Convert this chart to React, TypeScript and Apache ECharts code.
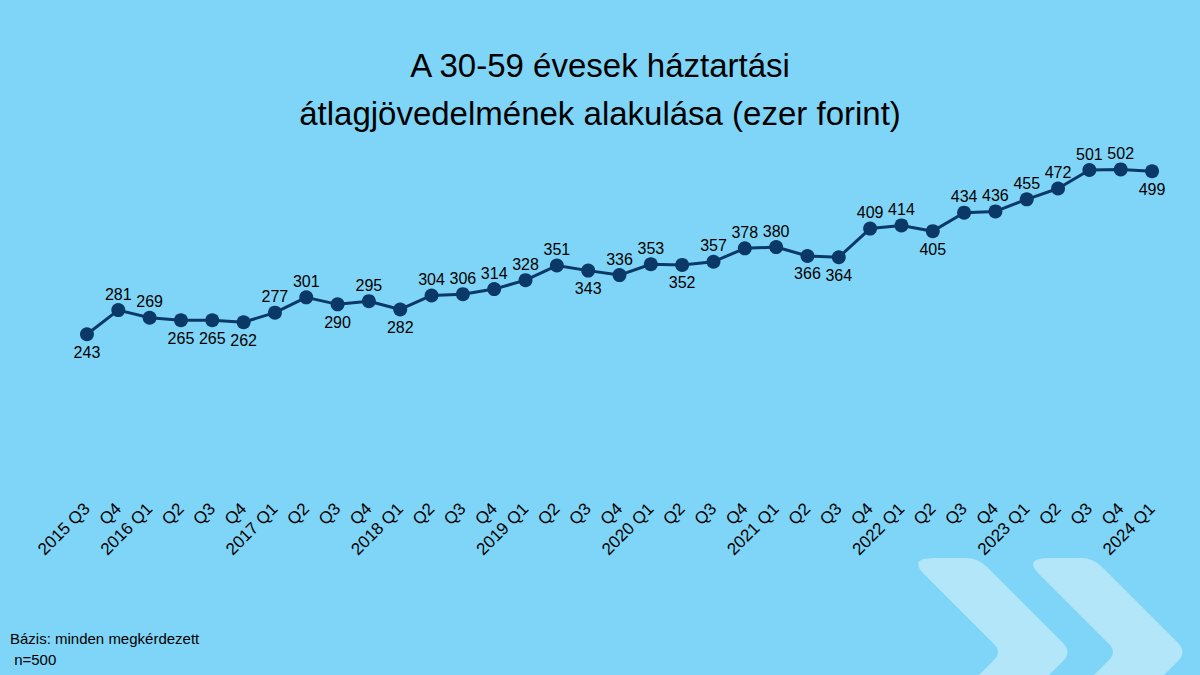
import React, { useEffect, useRef } from "react";
import * as echarts from "echarts";

const categories = [
  "2015 Q3", "Q4",
  "2016 Q1", "Q2", "Q3", "Q4",
  "2017 Q1", "Q2", "Q3", "Q4",
  "2018 Q1", "Q2", "Q3", "Q4",
  "2019 Q1", "Q2", "Q3", "Q4",
  "2020 Q1", "Q2", "Q3", "Q4",
  "2021 Q1", "Q2", "Q3", "Q4",
  "2022 Q1", "Q2", "Q3", "Q4",
  "2023 Q1", "Q2", "Q3", "Q4",
  "2024 Q1",
];

const incomeValues = [
  243, 281,
  269, 265, 265, 262,
  277, 301, 290, 295,
  282, 304, 306, 314,
  328, 351, 343, 336,
  353, 352, 357, 378,
  380, 366, 364, 409,
  414, 405, 434, 436,
  455, 472, 501, 502,
  499,
];

// indices of points whose value label sits below the marker
const labelsBelow = [0, 3, 4, 5, 8, 10, 16, 19, 23, 24, 27, 34];

const titleLines = ["A 30-59 évesek háztartási", "átlagjövedelmének alakulása (ezer forint)"];
const footLines = ["Bázis: minden megkérdezett", " n=500"];

const FONT = "'Liberation Sans', Arial, sans-serif";
const BG = "#7fd5f7";
const NAVY = "#0b3967";
const CHEVRON = "#b3e6f9";

const chevronPath =
  "M 935 558 L 966 558 Q 978 558 987 567 L 1063 643 Q 1072 652 1063 661 L 1049 675 L 979 675 L 994 660 Q 1002 652 994 644 L 924 574 Q 908 558 935 558 Z";

let registered = false;

export default function App() {
  const ref = useRef<HTMLDivElement>(null);

  useEffect(() => {
    document.body.style.margin = "0";
    if (!registered) {
      echarts.graphic.registerShape("chevron", echarts.graphic.extendPath(chevronPath, {}) as any);
      registered = true;
    }
    const chart = echarts.init(ref.current!, undefined, { renderer: "svg" });

    const data = incomeValues.map((v, i) => {
      const below = labelsBelow.includes(i);
      return {
        value: v,
        label: { position: below ? "bottom" : "top", distance: below ? 3 : 1 },
      };
    });

    chart.setOption({
      animation: false,
      backgroundColor: BG,
      title: {
        text: titleLines.join("\n"),
        left: "center",
        top: 36,
        textStyle: {
          fontFamily: FONT,
          fontSize: 33,
          fontWeight: "normal",
          lineHeight: 48,
          color: "#000",
        },
      },
      grid: {
        left: 71.3,
        right: 32.3,
        top: 107,
        bottom: 186,
        containLabel: false,
        outerBoundsMode: "none",
      },
      xAxis: {
        type: "category",
        data: categories,
        boundaryGap: true,
        axisLine: { show: false },
        axisTick: { show: false },
        axisLabel: {
          interval: 0,
          rotate: 45,
          margin: 17,
          fontFamily: FONT,
          fontSize: 17,
          color: "#000",
        },
      },
      yAxis: {
        type: "value",
        min: 0,
        max: 600,
        show: false,
        splitLine: { show: false },
      },
      series: [
        {
          type: "line",
          data,
          symbol: "circle",
          symbolSize: 14,
          lineStyle: { color: NAVY, width: 3 },
          itemStyle: { color: NAVY },
          label: {
            show: true,
            fontFamily: FONT,
            fontSize: 16,
            color: "#000",
          },
          z: 3,
        },
      ],
      graphic: [
        { type: "chevron", x: 0, y: 0, z: -1, style: { fill: CHEVRON } },
        { type: "chevron", x: 115, y: 0, z: -1, style: { fill: CHEVRON } },
        {
          type: "text",
          left: 10,
          top: 631,
          style: { text: footLines[0], fontFamily: FONT, fontSize: 15, fill: "#000" },
        },
        {
          type: "text",
          left: 10,
          top: 652,
          style: { text: footLines[1], fontFamily: FONT, fontSize: 15, fill: "#000" },
        },
      ],
    });

    return () => chart.dispose();
  }, []);

  return <div ref={ref} style={{ width: 1200, height: 675 }} />;
}
